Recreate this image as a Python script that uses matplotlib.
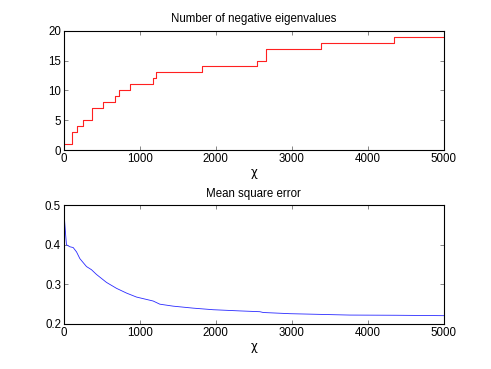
import matplotlib
matplotlib.use('Agg')
import matplotlib.pyplot as plt
import numpy as np

# Число отрицательных собственных значений (ступенчатая функция)
neg_x = [0, 101, 167, 254, 373, 509, 667, 728, 877, 1175, 1211, 1816, 2535, 2654, 3378, 4343, 5000]
neg_y = [1, 3, 4, 5, 7, 8, 9, 10, 11, 12, 13, 14, 15, 17, 18, 19, 19]

# Среднеквадратичная ошибка
mse_x = [0, 26, 35, 79, 123, 167, 211, 298, 364, 430, 561, 693, 825, 956, 1175, 1263,
         1439, 1702, 1965, 2316, 2579, 2623, 2974, 3763, 4377, 5000]
mse_y = [0.485, 0.42, 0.40, 0.395, 0.393, 0.382, 0.365, 0.345, 0.337, 0.325, 0.305, 0.290,
         0.278, 0.268, 0.258, 0.250, 0.245, 0.240, 0.236, 0.233, 0.231, 0.229, 0.226,
         0.2225, 0.222, 0.221]

plt.rcParams['font.family'] = ['Liberation Sans', 'DejaVu Sans']
plt.rcParams['font.size'] = 8

fig = plt.figure(figsize=(4.91, 3.69), dpi=100)
ax1 = fig.add_axes([0.130, 0.593, 0.774, 0.324])
ax2 = fig.add_axes([0.130, 0.122, 0.774, 0.322])


def style(ax):
    ax.tick_params(direction='in', top=True, right=True, length=3, width=0.5,
                   labelsize=8.3, pad=2, color='#555555')
    for s in ax.spines.values():
        s.set_linewidth(0.8)


ax1.step(neg_x, neg_y, where='post', color='#ff2020', linewidth=0.8)
ax1.set_xlim(0, 5000)
ax1.set_ylim(0, 20)
ax1.set_xticks([0, 1000, 2000, 3000, 4000, 5000])
ax1.set_yticks([0, 5, 10, 15, 20])
ax1.set_title('Number of negative eigenvalues', fontsize=8.3, pad=6)
ax1.set_xlabel('χ', fontsize=8.5, labelpad=1, family='DejaVu Sans')
style(ax1)

ax2.plot(mse_x, mse_y, color='#2a2aff', linewidth=0.6)
ax2.set_xlim(0, 5000)
ax2.set_ylim(0.2, 0.5)
ax2.set_xticks([0, 1000, 2000, 3000, 4000, 5000])
ax2.set_yticks([0.2, 0.3, 0.4, 0.5])
ax2.set_title('Mean square error', fontsize=8.3, pad=6)
ax2.set_xlabel('χ', fontsize=8.5, labelpad=1, family='DejaVu Sans')
style(ax2)

fig.savefig('out.png', dpi=100)
